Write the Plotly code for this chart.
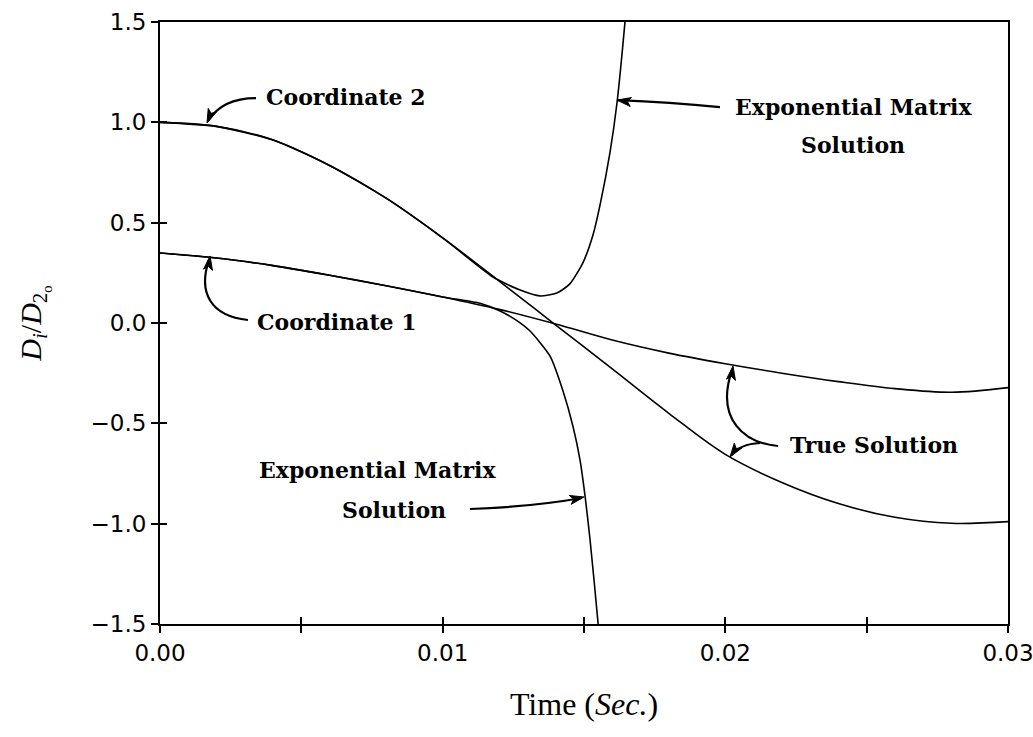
import math
import plotly.graph_objects as go

# ---------------- data ----------------
time_true = [0.000, 0.002, 0.004, 0.006, 0.008, 0.010, 0.012, 0.014,
             0.016, 0.018, 0.020, 0.022, 0.024, 0.026, 0.028, 0.030]
coord2_true = [1.000, 0.980, 0.912, 0.785, 0.622, 0.424, 0.209, -0.010,
               -0.229, -0.450, -0.655, -0.795, -0.900, -0.968, -0.998, -0.990]
coord1_true = [0.349, 0.324, 0.286, 0.238, 0.186, 0.130, 0.068, -0.005,
               -0.085, -0.150, -0.203, -0.250, -0.292, -0.327, -0.345, -0.322]

time_exp2 = [0.000, 0.002, 0.004, 0.006, 0.008, 0.010, 0.01178, 0.01274, 0.01344,
             0.01404, 0.01450, 0.01496, 0.01532, 0.01557, 0.01592, 0.01617, 0.01645, 0.01663]
coord2_exp = [1.000, 0.980, 0.912, 0.785, 0.622, 0.424, 0.229, 0.164, 0.135,
              0.149, 0.195, 0.300, 0.440, 0.590, 0.850, 1.100, 1.500, 1.800]

time_exp1 = [0.000, 0.002, 0.004, 0.006, 0.008, 0.010, 0.01132, 0.01203, 0.01256,
             0.01309, 0.01380, 0.01426, 0.01461, 0.01486, 0.01504, 0.01521, 0.01550, 0.01565]
coord1_exp = [0.349, 0.324, 0.286, 0.238, 0.186, 0.130, 0.098, 0.060, 0.018,
              -0.040, -0.165, -0.340, -0.515, -0.683, -0.865, -1.075, -1.500, -1.800]

x_tickvals = [0.00, 0.01, 0.02, 0.03]
x_ticktext = ["0.00", "0.01", "0.02", "0.03"]
x_minorvals = [0.005, 0.015, 0.025]
y_tickvals = [-1.5, -1.0, -0.5, 0.0, 0.5, 1.0, 1.5]
y_ticktext = ["\u22121.5", "\u22121.0", "\u22120.5", "0.0", "0.5", "1.0", "1.5"]

X_RANGE = [0, 0.03]
Y_RANGE = [-1.5, 1.5]
W, H = 1033, 737
ML, MR, MT, MB = 160, 25, 22, 113

# ---------------- figure ----------------
fig = go.Figure()
for xs, ys, sm in [(time_true, coord2_true, 1.0), (time_true, coord1_true, 1.0),
                   (time_exp2, coord2_exp, 0.6), (time_exp1, coord1_exp, 0.6)]:
    fig.add_trace(go.Scatter(x=xs, y=ys, mode="lines",
                             line=dict(shape="spline", smoothing=sm, color="black", width=1.6),
                             showlegend=False, hoverinfo="skip"))

# invisible trace to anchor the overlay axes (inner half of crossing ticks)
fig.add_trace(go.Scatter(x=time_true, y=coord1_true, xaxis="x2", yaxis="y2", mode="lines",
                         line=dict(width=0, color="rgba(0,0,0,0)"), showlegend=False, hoverinfo="skip"))

tick_font = dict(family="DejaVu Sans", size=23, color="black")
label_font = dict(family="DejaVu Serif", size=22, color="black")
tick_style = dict(ticklen=7, tickwidth=1.5, tickcolor="black")

fig.update_layout(
    width=W, height=H,
    margin=dict(l=ML, r=MR, t=MT, b=MB),
    paper_bgcolor="white", plot_bgcolor="white",
    xaxis=dict(range=X_RANGE, tickvals=x_tickvals, ticktext=x_ticktext, automargin=False,
               ticklabeloverflow="allow",
               showgrid=False, zeroline=False, showline=True, linecolor="black", linewidth=2,
               mirror=True, ticks="outside", **tick_style,
               minor=dict(tickvals=x_minorvals, ticks="outside", showgrid=False, **tick_style),
               tickfont=tick_font,
               title=dict(text="Time (<i>Sec.</i>)", font=dict(family="Liberation Serif", size=32, color="black"),
                          standoff=28)),
    yaxis=dict(range=Y_RANGE, tickvals=y_tickvals, ticktext=y_ticktext, automargin=False,
               ticklabeloverflow="allow",
               showgrid=False, zeroline=False, showline=True, linecolor="black", linewidth=2,
               mirror=True, ticks="outside", **tick_style,
               tickfont=tick_font,
               title=dict(text="<i>D<sub>i</sub></i>/<i>D</i><sub>2<sub>o</sub></sub>",
                          font=dict(family="Liberation Serif", size=30, color="black"), standoff=40)),
    xaxis2=dict(overlaying="x", matches="x", anchor="y", side="bottom", tickvals=x_tickvals,
                showticklabels=False, showgrid=False, zeroline=False, showline=False, automargin=False,
                ticks="inside", **tick_style,
                minor=dict(tickvals=x_minorvals, ticks="inside", showgrid=False, **tick_style)),
    yaxis2=dict(overlaying="y", matches="y", anchor="x", side="left", tickvals=y_tickvals,
                showticklabels=False, showgrid=False, zeroline=False, showline=False, automargin=False,
                ticks="inside", **tick_style),
)

# ---------------- text labels ----------------
labels = [
    ("Coordinate 2", 0.00658, 1.126),
    ("Coordinate 1", 0.00626, 0.005),
    ("Exponential Matrix", 0.02455, 1.076),
    ("Solution", 0.02452, 0.887),
    ("Exponential Matrix", 0.00768, -0.732),
    ("Solution", 0.00828, -0.932),
    ("True Solution", 0.02526, -0.608),
]
for text, x, y in labels:
    fig.add_annotation(x=x, y=y, xref="x", yref="y", text="<b>%s</b>" % text, showarrow=False,
                       font=label_font, xanchor="center", yanchor="middle")

# ---------------- curved arrow shafts ----------------
shafts = [
    "M 0.003396,1.121 Q 0.002193,1.121 0.001698,1.006",
    "M 0.003113,0.0149 C 0.001769,0.0349 0.001344,0.1545 0.001733,0.3139",
    "M 0.01981,1.076 Q 0.01804,1.101 0.0162,1.111",
    "M 0.010967,-0.9268 Q 0.013089,-0.9168 0.014929,-0.8719",
    "M 0.021863,-0.6129 C 0.020696,-0.5979 0.019634,-0.4833 0.020236,-0.2342",
    "M 0.021226,-0.5979 Q 0.020519,-0.6029 0.020236,-0.6577",
]
for p in shafts:
    fig.add_shape(type="path", path=p, xref="x", yref="y", line=dict(color="black", width=2.2))

# ---------------- arrow heads (filled triangles) ----------------
px_x = (X_RANGE[1] - X_RANGE[0]) / (W - ML - MR)
px_y = (Y_RANGE[1] - Y_RANGE[0]) / (H - MT - MB)


def head_path(tx, ty, dx, dy, length=14, half=4.5):
    n = math.hypot(dx, dy)
    ux, uy = dx / n, dy / n
    bx, by = -length * ux, -length * uy
    c1 = (bx - half * uy, by + half * ux)
    c2 = (bx + half * uy, by - half * ux)
    pts = [(0, 0), c1, (bx * 0.75, by * 0.75), c2]
    coords = ["%.7f,%.5f" % (tx + ox * px_x, ty - oy * px_y) for ox, oy in pts]
    return "M " + " L ".join(coords) + " Z"


heads = [
    (0.001663, 0.9965, -5, 12),
    (0.001769, 0.334, 2, -14),
    (0.016167, 1.111, -14, -2),
    (0.0150, -0.867, 14, -3),
    (0.02027, -0.2142, 2, -14),
    (0.020165, -0.6677, -7, 10),
]
for x, y, dx, dy in heads:
    fig.add_shape(type="path", path=head_path(x, y, dx, dy), xref="x", yref="y",
                  line=dict(color="black", width=1), fillcolor="black")

fig.write_html("out.html", config={"displayModeBar": False},
               post_script="document.body.style.margin='0';")
